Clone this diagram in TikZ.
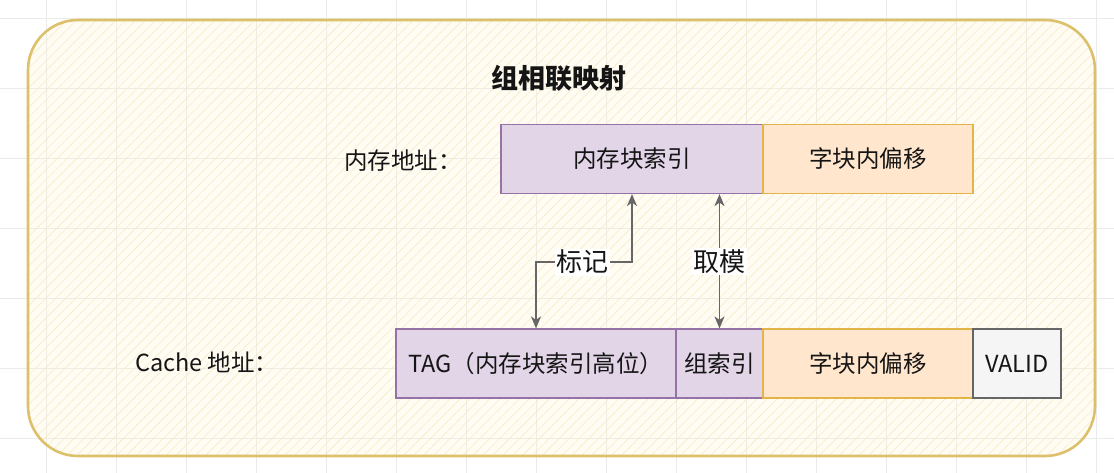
\documentclass[tikz,border=0pt]{standalone}
\usepackage{fontspec}
\setmainfont{Noto Sans CJK SC}
\usetikzlibrary{arrows.meta,positioning,patterns.meta}
\definecolor{gridline}{HTML}{EBEBEB}
\definecolor{framefill}{HTML}{FFF2CC}
\definecolor{framedraw}{HTML}{DCC06A}
\definecolor{hatch}{HTML}{F7EBC6}
\definecolor{purplefill}{HTML}{E1D5E7}
\definecolor{purpledraw}{HTML}{9673A6}
\definecolor{orangefill}{HTML}{FFE6CC}
\definecolor{orangedraw}{HTML}{E3B448}
\definecolor{greyfill}{HTML}{F5F5F5}
\definecolor{greydraw}{HTML}{666666}
\definecolor{textc}{HTML}{151515}

\tikzset{
  field/.style={rectangle, minimum height=69pt, inner sep=0pt, line width=1.2pt, text=textc,
    font=\fontsize{23.5}{27}\selectfont},
  idxfield/.style={field, fill=purplefill, draw=purpledraw},
  offfield/.style={field, fill=orangefill, draw=orangedraw},
  validfield/.style={field, fill=greyfill, draw=greydraw},
  rowlabel/.style={inner sep=0pt, text=textc, font=\fontsize{23.5}{27}\selectfont},
  conn/.style={draw=greydraw, line width=1.5pt, {Stealth[length=12pt,width=10pt,inset=3.5pt]}-{Stealth[length=12pt,width=10pt,inset=3.5pt]}},
  connlabel/.style={fill=white, inner sep=1.5pt, text=textc, font=\fontsize{26}{30}\selectfont}
}

\begin{document}
\begin{tikzpicture}[x=1pt,y=-1pt]
\useasboundingbox (0,0) rectangle (1114,473);

% background grid
\fill[white] (0,0) rectangle (1114,473);
\foreach \gx in {0,...,15} \draw[gridline, line width=0.8pt] (46.7+70*\gx,0) -- (46.7+70*\gx,473);
\foreach \gy in {0,...,6} \draw[gridline, line width=0.8pt] (0,18+70*\gy) -- (1114,18+70*\gy);

% frame
\path[fill=framefill, fill opacity=0.22, rounded corners=50pt] (28,20) rectangle (1095,456);
\path[pattern={Lines[angle=45,distance=7pt,line width=0.6pt]}, pattern color=hatch, rounded corners=50pt] (28,20) rectangle (1095,456);
\draw[framedraw, line width=2.6pt, rounded corners=50pt] (28,20) rectangle (1095,456);

% title
\node[inner sep=0pt, text=textc, font=\fontsize{27}{32}\selectfont\bfseries] (title) at (559,78) {组相联映射};

% memory address
\node[idxfield, minimum width=262pt] (memidx) at (632,159) {内存块索引};
\node[offfield, minimum width=210pt] (memoff) at (868,159) {字块内偏移};
\node[rowlabel, anchor=east] (memlabel) at (462,161) {内存地址：};

% cache address
\node[idxfield, minimum width=280pt] (tag) at (536,363.5) {TAG（内存块索引高位）};
\node[idxfield, minimum width=87pt] (setidx) at (719.5,363.5) {组索引};
\node[offfield, minimum width=210pt] (cacheoff) at (868,363.5) {字块内偏移};
\node[validfield, minimum width=88pt] (valid) at (1017,363.5) {VALID};
\node[rowlabel, anchor=west] (cachelabel) at (135,362) {Cache 地址：};

% connectors
\draw[conn] (memidx.south) -- ++(0,68) -| node[connlabel, pos=0.26] {标记} (tag.north);
\draw[conn] (setidx.north |- memidx.south) -- node[connlabel] {取模} (setidx.north);

\end{tikzpicture}
\end{document}
